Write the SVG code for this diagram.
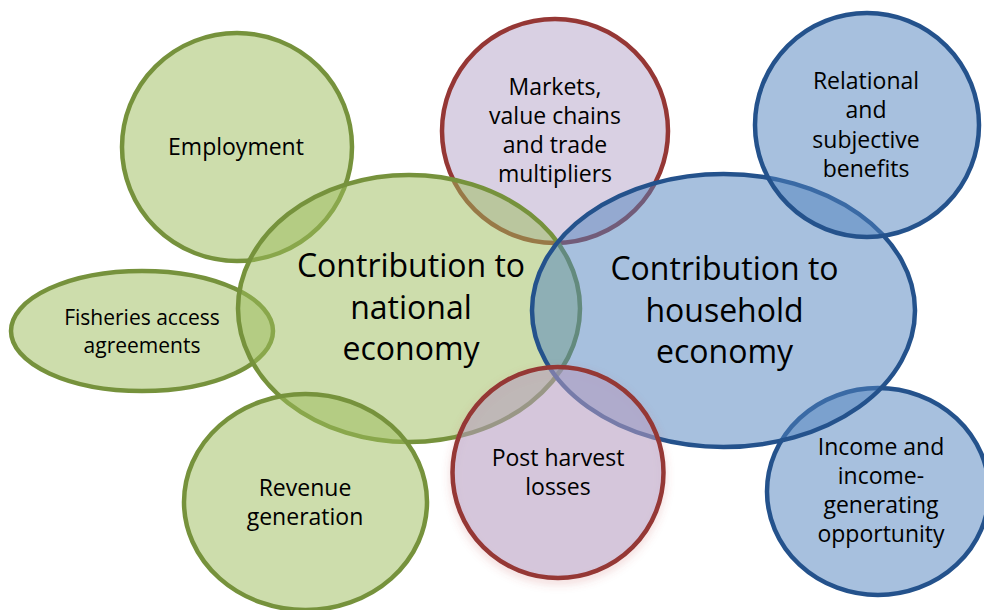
<svg xmlns="http://www.w3.org/2000/svg" width="984" height="610" viewBox="0 0 984 610">
<defs>
<style>
.g{fill:#9bbb59;fill-opacity:0.5;stroke:#76923c;stroke-width:4.5}
.p{fill:#b3a2c7;fill-opacity:0.5;stroke:#953735;stroke-width:4.5}
.b{fill:#4f81bd;fill-opacity:0.5;stroke:#24528c;stroke-width:4.5}
text{font-family:"Open Sans","Liberation Sans",sans-serif;fill:#000;text-anchor:middle}
.s{font-size:23px}
.f{font-size:21px}
.l{font-size:32px}
</style>
<filter id="sh" x="-20%" y="-20%" width="140%" height="150%">
<feDropShadow dx="0" dy="4" stdDeviation="4" flood-color="#c0504d" flood-opacity="0.25"/>
</filter>
</defs>
<rect width="984" height="610" fill="#fff"/>
<g id="connectors"></g>
<g id="markets">
<ellipse class="p" cx="555" cy="131" rx="113" ry="112"/>
<text class="s" x="555" y="95">Markets,</text>
<text class="s" x="555" y="124">value chains</text>
<text class="s" x="555" y="153">and trade</text>
<text class="s" x="555" y="182">multipliers</text>
</g>
<g id="employment">
<ellipse class="g" cx="237" cy="147" rx="115" ry="114"/>
<text class="s" x="236" y="155">Employment</text>
</g>
<g id="fisheries">
<ellipse class="g" cx="142" cy="331" rx="131" ry="60"/>
<text class="f" x="142" y="325">Fisheries access</text>
<text class="f" x="142" y="353">agreements</text>
</g>
<g id="income">
<ellipse class="b" cx="878" cy="491.5" rx="111" ry="103.5"/>
<text class="s" x="881" y="455">Income and</text>
<text class="s" x="881" y="484">income-</text>
<text class="s" x="881" y="513">generating</text>
<text class="s" x="881" y="542">opportunity</text>
</g>
<g id="national">
<ellipse class="g" cx="409" cy="308.5" rx="171" ry="133.5"/>
<text class="l" x="411" y="277">Contribution to</text>
<text class="l" x="411" y="318.5">national</text>
<text class="l" x="411" y="360">economy</text>
</g>
<g id="household">
<ellipse class="b" cx="723.5" cy="310.5" rx="191.5" ry="136.5"/>
<text class="l" x="724.5" y="280">Contribution to</text>
<text class="l" x="724.5" y="321.5">household</text>
<text class="l" x="724.5" y="363">economy</text>
</g>
<g id="relational">
<ellipse class="b" cx="867" cy="125" rx="112" ry="112"/>
<text class="s" x="866" y="89">Relational</text>
<text class="s" x="866" y="118">and</text>
<text class="s" x="866" y="148">subjective</text>
<text class="s" x="866" y="177">benefits</text>
</g>
<g id="revenue">
<ellipse class="g" cx="305.5" cy="502" rx="121.5" ry="108"/>
<text class="s" x="305" y="496">Revenue</text>
<text class="s" x="305" y="525">generation</text>
</g>
<g id="postharvest">
<ellipse class="p" cx="558" cy="472.5" rx="105.5" ry="105.5" filter="url(#sh)"/>
<text class="s" x="558" y="466">Post harvest</text>
<text class="s" x="558" y="495">losses</text>
</g>
</svg>
